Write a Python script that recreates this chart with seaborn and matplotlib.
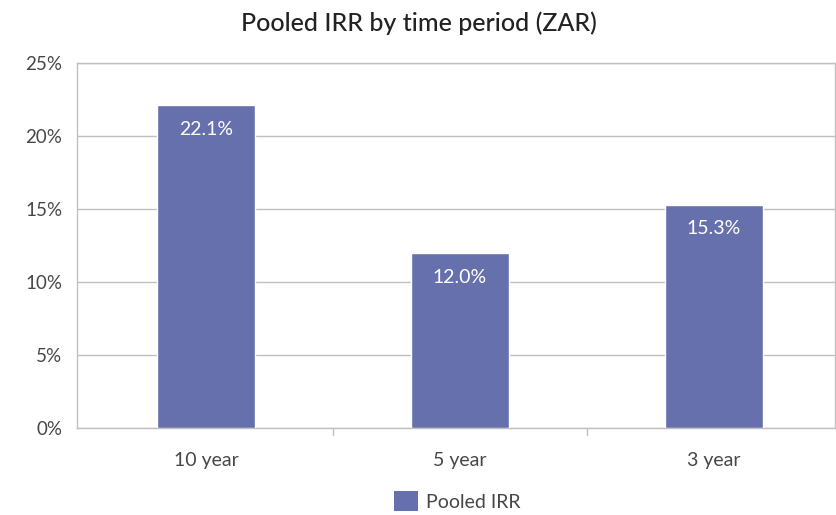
import matplotlib
matplotlib.use("Agg")
import matplotlib.pyplot as plt
import seaborn as sns
import pandas as pd
from matplotlib.patches import Patch
from matplotlib.ticker import FuncFormatter

categories = ["10 year", "5 year", "3 year"]
values = [22.1, 12.0, 15.3]
series_name = "Pooled IRR"
title = "Pooled IRR by time period (ZAR)"

sns.set_theme(style="white")
plt.rcParams['font.family'] = ['Lato', 'DejaVu Sans']

df = pd.DataFrame({"period": categories, "irr": values})
color = "#6570ad"
grid = "#c0c0c0"
txt = "#474747"

fig = plt.figure(figsize=(8.37, 5.15), dpi=100)
ax = fig.add_axes([0.092, 0.169, 0.9055, 0.709])
sns.barplot(data=df, x="period", y="irr", color=color, width=0.386, ax=ax,
            saturation=1, zorder=3)
ax.set_ylim(0, 25)
ax.set_yticks([0, 5, 10, 15, 20, 25])
ax.yaxis.set_major_formatter(FuncFormatter(lambda v, p: f"{v:.0f}%"))
ax.grid(axis="y", color=grid, linewidth=1, zorder=0)
ax.set_xlim(-0.508, 2.476)
ax.set_xlabel("")
ax.set_ylabel("")
for s in ["left", "bottom", "right", "top"]:
    ax.spines[s].set_visible(True)
    ax.spines[s].set_color(grid)
    ax.spines[s].set_linewidth(1)
ax.tick_params(axis="y", length=0, labelsize=13.5, labelcolor=txt, pad=10.5)
ax.tick_params(axis="x", length=0, labelsize=14, labelcolor=txt, pad=17)
for xb in [0.5, 1.5]:
    ax.plot([xb, xb], [0, -0.018], transform=ax.get_xaxis_transform(),
            color=grid, lw=1, clip_on=False)

for i, v in enumerate(values):
    ax.annotate(f"{v:.1f}%", (i, v), xytext=(0, -11.5), textcoords="offset points",
                ha="center", va="top", color="white", fontsize=14, zorder=4)

fig.text(0.5, 0.955, title, ha="center", va="center", fontsize=18,
         color="#222222", fontweight="medium")

leg = fig.legend(handles=[Patch(facecolor=color, edgecolor="none", label=series_name)],
                 loc="center", bbox_to_anchor=(0.546, 0.027), frameon=False,
                 fontsize=14, handlelength=1.25, handleheight=1.15, handletextpad=0.4)
for t in leg.get_texts():
    t.set_color(txt)

fig.savefig("out.png", dpi=100)
